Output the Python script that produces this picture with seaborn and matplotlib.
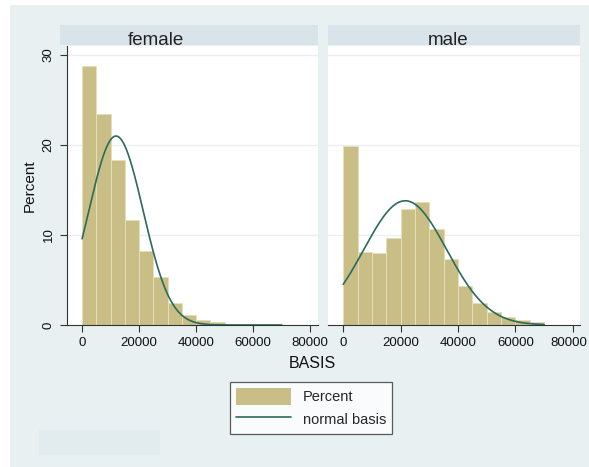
import numpy as np
import pandas as pd
import matplotlib
matplotlib.use("Agg")
import matplotlib.pyplot as plt
import matplotlib.transforms as mtransforms
import seaborn as sns
from matplotlib.patches import Rectangle, Patch
from matplotlib.lines import Line2D

# ---- data ----
panels = ["female", "male"]
bin_edges = [0, 5000, 10000, 15000, 20000, 25000, 30000, 35000, 40000,
             45000, 50000, 55000, 60000, 65000, 70000]
female_pct = [28.8, 23.4, 18.3, 11.7, 8.2, 5.3, 2.4, 1.1, 0.55, 0.3, 0.12, 0.1, 0.1, 0.1]
male_pct = [19.9, 8.1, 8.0, 9.7, 12.9, 13.7, 10.7, 7.3, 4.3, 2.4, 1.5, 0.85, 0.55, 0.37]
normal_mean = {"female": 11900, "male": 21600}
normal_sd = {"female": 9500, "male": 14450}
x_ticks = [0, 20000, 40000, 60000, 80000]
y_ticks = [0, 10, 20, 30]

bar_color = "#c9be85"
line_color = "#2c6b5c"
bg_color = "#e8f0f2"
strip_color = "#d8e4ea"

sns.set_theme(style="white")
plt.rcParams["font.family"] = ["Liberation Sans", "DejaVu Sans"]

W, H = 589, 467
fig = plt.figure(figsize=(W / 100, H / 100), dpi=100)
fig.patch.set_facecolor("white")

def fx(px):
    return px / W

def fy(py):
    return 1 - py / H

# outer background
fig.patches.append(Rectangle((fx(10), 0), 1 - fx(10), fy(5), transform=fig.transFigure,
                             facecolor=bg_color, edgecolor="none", zorder=-10))
# faint note area
fig.patches.append(Rectangle((fx(39), fy(455)), fx(160) - fx(39), fy(430) - fy(455),
                             transform=fig.transFigure, facecolor="#e2ebee",
                             edgecolor="none", zorder=-9))

panel_px = {"female": (67, 318), "male": (328, 580)}
strip_px = {"female": (60, 318), "male": (328, 580)}
title_x = {"female": 156, "male": 448}
top_px, bot_px = 46, 325
xlims = {"female": (-5300, 82800), "male": (-5300, 82500)}

pct = {"female": female_pct, "male": male_pct}

for i, name in enumerate(panels):
    l, r = panel_px[name]
    ax = fig.add_axes([fx(l), fy(bot_px), fx(r) - fx(l), fy(top_px) - fy(bot_px)])
    ax.set_facecolor("white")
    df = pd.DataFrame({"BASIS": bin_edges[:-1], "pct": pct[name]})
    sns.histplot(data=df, x="BASIS", weights="pct", bins=list(bin_edges), ax=ax,
                 color=bar_color, alpha=1, edgecolor="#e6dfbb", linewidth=0.7, zorder=2)
    mu, sd = normal_mean[name], normal_sd[name]
    xs = np.linspace(bin_edges[0], bin_edges[-1], 300)
    ys = np.exp(-0.5 * ((xs - mu) / sd) ** 2) / (sd * np.sqrt(2 * np.pi)) * 5000 * 100
    sns.lineplot(x=xs, y=ys, ax=ax, color=line_color, linewidth=1.2, zorder=3)

    ax.set_xlim(*xlims[name])
    ax.set_ylim(0, 31)
    ax.set_xticks(x_ticks)
    ax.set_xticklabels([str(t) for t in x_ticks], fontsize=9.5, color="#111111")
    for y in [10, 20, 30]:
        ax.axhline(y, color="#e9eff2", linewidth=1.0, zorder=1)
    ax.set_xlabel("")
    ax.tick_params(axis="x", direction="out", length=5, width=0.8, color="#333333", pad=3.5, bottom=True)
    for s in ["top", "right"]:
        ax.spines[s].set_visible(False)
    ax.spines["bottom"].set_color("#333333")
    ax.spines["bottom"].set_linewidth(0.8)
    if name == "female":
        ax.set_yticks(y_ticks)
        ax.set_yticklabels([str(t) for t in y_ticks], fontsize=9.5, rotation=90,
                           va="center", color="#111111")
        ax.tick_params(axis="y", direction="out", length=5, width=0.8, color="#333333", pad=4, left=True)
        ax.spines["left"].set_color("#333333")
        ax.spines["left"].set_linewidth(0.8)
        ax.set_ylabel("Percent", fontsize=11, labelpad=4, color="#111111")
    else:
        ax.set_yticks([])
        ax.spines["left"].set_visible(False)
        ax.set_ylabel("")
        last = ax.get_xticklabels()[-1]
        last.set_transform(last.get_transform() +
                           mtransforms.ScaledTranslation(-3 / 72, 0, fig.dpi_scale_trans))

    # header strip
    sl, sr = strip_px[name]
    fig.patches.append(Rectangle((fx(sl), fy(45)), fx(sr) - fx(sl), fy(25) - fy(45),
                                 transform=fig.transFigure, facecolor=strip_color,
                                 edgecolor="none", zorder=-5))
    fig.text(fx(title_x[name]), fy(40.5), name, ha="center", va="center",
             fontsize=13.5, color="#222222")

fig.text(fx(312), fy(364), "BASIS", ha="center", va="center", fontsize=11.5, color="#111111")

handles = [Patch(facecolor=bar_color, edgecolor="none"),
           Line2D([0], [0], color=line_color, linewidth=1.2)]
leg = fig.legend(handles, ["Percent", "normal basis"], loc="center",
                 bbox_to_anchor=(fx(311), fy(408)), fontsize=10.5, frameon=True,
                 fancybox=False, edgecolor="#333333", facecolor="white",
                 handlelength=3.8, handleheight=1.5, borderpad=0.4, labelspacing=0.35,
                 handletextpad=0.8, borderaxespad=0)
leg.get_frame().set_linewidth(0.9)

fig.savefig("out.png", dpi=100, facecolor=fig.get_facecolor())
